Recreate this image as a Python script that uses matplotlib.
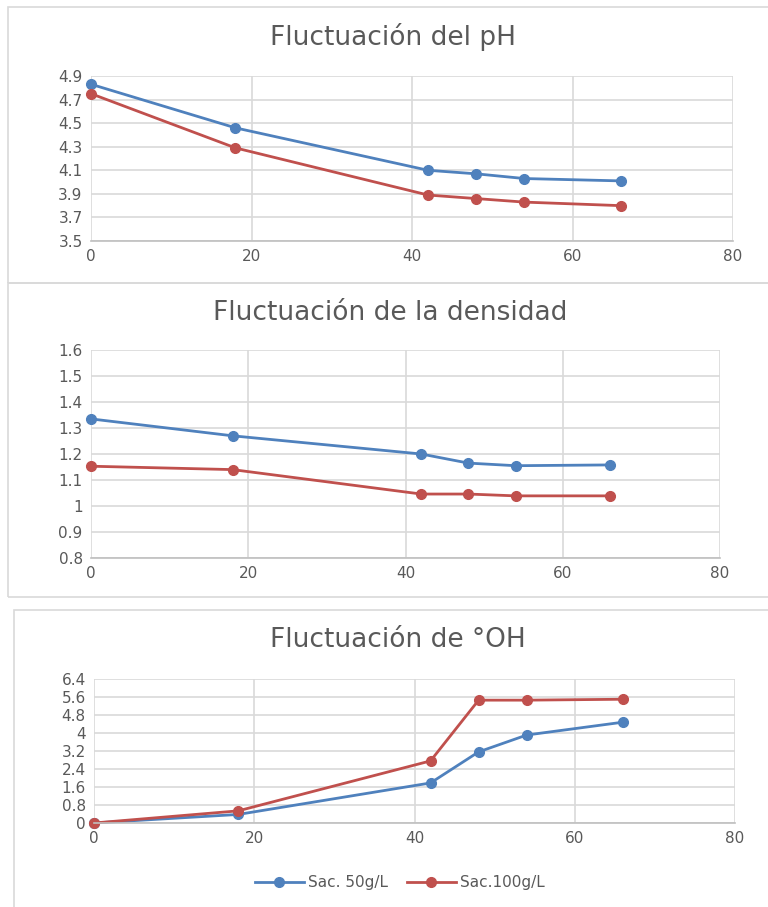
import matplotlib.pyplot as plt
from matplotlib.patches import Rectangle

horas = [0, 18, 42, 48, 54, 66]

ph_50 = [4.83, 4.46, 4.10, 4.07, 4.03, 4.01]
ph_100 = [4.75, 4.29, 3.89, 3.86, 3.83, 3.80]

dens_50 = [1.335, 1.27, 1.20, 1.165, 1.155, 1.158]
dens_100 = [1.153, 1.14, 1.046, 1.046, 1.039, 1.039]

oh_50 = [0, 0.38, 1.78, 3.16, 3.91, 4.48]
oh_100 = [0, 0.54, 2.76, 5.46, 5.46, 5.5]

series_names = ['Sac. 50g/L', 'Sac.100g/L']
blue = '#4F81BD'
red = '#C0504D'
txt = '#595959'
grid = '#D9D9D9'

W, H = 768, 907
fig = plt.figure(figsize=(W / 100, H / 100), dpi=100)
plt.rcParams['font.family'] = ['DejaVu Sans']


def box(x0, y0, x1, y1):
    return [x0 / W, 1 - y1 / H, (x1 - x0) / W, (y1 - y0) / H]


# chart borders
for (x0, y0, x1, y1) in [(8, 7, 775, 283), (8, 283, 775, 597), (14, 610, 775, 915)]:
    fig.patches.append(Rectangle((x0 / W, 1 - y1 / H), (x1 - x0) / W, (y1 - y0) / H,
                                 transform=fig.transFigure, fill=False,
                                 edgecolor='#D9D9D9', lw=1.2))


def panel(rect, ys, ylim, yticks, yticklabels, title, title_xy):
    ax = fig.add_axes(box(*rect))
    ax.plot(horas, ys[0], color=blue, lw=2, marker='o', ms=7, label=series_names[0])
    ax.plot(horas, ys[1], color=red, lw=2, marker='o', ms=7, label=series_names[1])
    ax.set_xlim(0, 80)
    ax.set_ylim(*ylim)
    ax.set_xticks([0, 20, 40, 60, 80])
    ax.set_yticks(yticks)
    ax.set_yticklabels(yticklabels)
    ax.grid(True, color=grid, lw=1.2)
    ax.set_axisbelow(True)
    for s in ['top', 'right', 'left']:
        ax.spines[s].set_visible(False)
    ax.spines['bottom'].set_color('#BFBFBF')
    ax.spines['bottom'].set_linewidth(1.2)
    ax.tick_params(length=0, labelsize=11, colors=txt, pad=6)
    for c in ax.get_children():
        if hasattr(c, 'set_clip_on') and c in ax.lines:
            c.set_clip_on(False)
    fig.text(title_xy[0] / W, 1 - title_xy[1] / H, title, ha='center', va='center',
             fontsize=19, color=txt)
    return ax


ph_ticks = [3.5, 3.7, 3.9, 4.1, 4.3, 4.5, 4.7, 4.9]
panel((91, 76, 733, 241), [ph_50, ph_100], (3.5, 4.9), ph_ticks,
      [str(t) for t in ph_ticks], 'Fluctuación del pH', (393, 37))

d_ticks = [0.8, 0.9, 1.0, 1.1, 1.2, 1.3, 1.4, 1.5, 1.6]
panel((91, 350, 720, 558), [dens_50, dens_100], (0.8, 1.6), d_ticks,
      ['0.8', '0.9', '1', '1.1', '1.2', '1.3', '1.4', '1.5', '1.6'],
      'Fluctuación de la densidad', (390, 313))

oh_ticks = [0, 0.8, 1.6, 2.4, 3.2, 4.0, 4.8, 5.6, 6.4]
ax3 = panel((94, 679, 735, 823), [oh_50, oh_100], (0, 6.4), oh_ticks,
            ['0', '0.8', '1.6', '2.4', '3.2', '4', '4.8', '5.6', '6.4'],
            'Fluctuación de °OH', (398, 640))

fig.legend(*ax3.get_legend_handles_labels(), loc='center', ncol=2,
           bbox_to_anchor=(400 / W, 1 - 883 / H), frameon=False,
           fontsize=11, labelcolor=txt, handlelength=3.2, columnspacing=1.2,
           handletextpad=0.3)

fig.savefig('out.png', dpi=100)
